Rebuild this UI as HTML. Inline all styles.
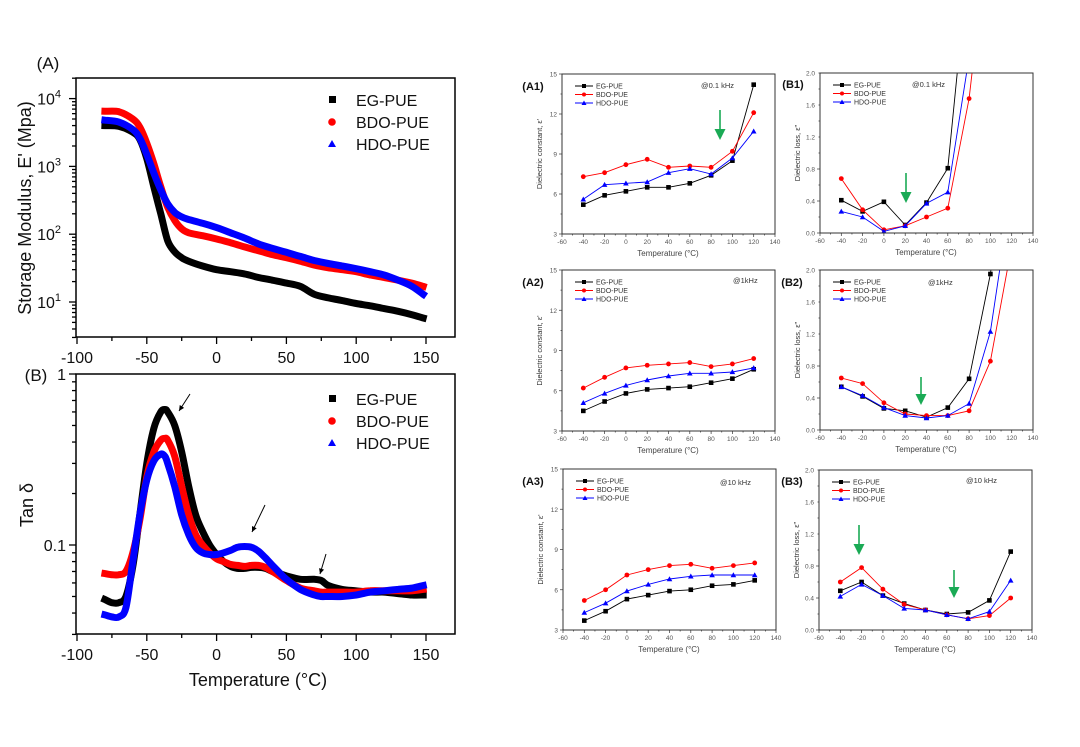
<!DOCTYPE html>
<html><head><meta charset="utf-8">
<style>
html,body{margin:0;padding:0;background:#fff;}
svg{display:block;font-family:"Liberation Sans",Arial,sans-serif;}
</style></head>
<body>
<svg id="fig" width="1080" height="747" viewBox="0 0 1080 747" xmlns="http://www.w3.org/2000/svg"></svg>
<script>
// ===== DMA data =====
const dmaTemps = [-80,-70,-60,-55,-50,-45,-40,-35,-30,-25,-20,-10,0,10,20,30,40,50,60,70,80,90,100,110,120,130,140,148];
const modEG  = [4000,3900,3200,2500,1300,500,200,80,55,45,40,34,30,28,26,23,21,19,17,13,11.5,10.5,9.5,8.8,8,7.3,6.5,5.8];
const modBDO = [6500,6400,5000,3800,2200,1100,500,250,160,120,105,95,85,75,65,57,50,45,40,35,32,30,28,25,23,21,19,17];
const modHDO = [4800,4500,3500,2600,1500,800,450,280,210,180,165,145,125,105,88,72,62,54,47,41,37,34,31,28,25,21,17,13];

const tanTemps = [-80,-75,-70,-65,-60,-55,-50,-45,-40,-37,-35,-30,-25,-20,-15,-10,-5,0,5,10,15,20,25,30,35,40,45,50,60,70,75,80,90,100,110,120,130,140,148];
const tanEG  = [0.048,0.046,0.046,0.05,0.075,0.15,0.3,0.48,0.6,0.62,0.6,0.5,0.35,0.22,0.15,0.12,0.1,0.088,0.08,0.075,0.073,0.073,0.074,0.074,0.073,0.07,0.068,0.066,0.063,0.063,0.062,0.058,0.055,0.054,0.053,0.053,0.052,0.051,0.051];
const tanBDO = [0.068,0.067,0.067,0.07,0.09,0.14,0.25,0.35,0.41,0.42,0.41,0.33,0.22,0.15,0.115,0.1,0.09,0.083,0.08,0.077,0.076,0.075,0.076,0.076,0.074,0.07,0.066,0.062,0.056,0.054,0.053,0.053,0.053,0.053,0.054,0.054,0.054,0.054,0.055];
const tanHDO = [0.039,0.038,0.038,0.043,0.08,0.15,0.24,0.31,0.34,0.33,0.3,0.22,0.15,0.115,0.097,0.09,0.088,0.088,0.09,0.093,0.097,0.098,0.097,0.092,0.084,0.076,0.069,0.063,0.055,0.051,0.05,0.05,0.05,0.051,0.053,0.054,0.055,0.056,0.058];

// ===== Dielectric data =====
const dTemps = [-40,-20,0,20,40,60,80,100,120];
const a1EG  = [5.2,5.9,6.2,6.5,6.5,6.8,7.4,8.5,14.2];
const a1BDO = [7.3,7.6,8.2,8.6,8.0,8.1,8.0,9.2,12.1];
const a1HDO = [5.6,6.7,6.8,6.9,7.6,7.9,7.5,8.7,10.7];
const b1EG  = [0.41,0.27,0.39,0.1,0.38,0.81,3.5,5,6];
const b1BDO = [0.68,0.29,0.04,0.09,0.2,0.31,1.68,4,6];
const b1HDO = [0.27,0.2,0.02,0.09,0.37,0.51,2.2,5,6];
const a2EG  = [4.5,5.2,5.8,6.1,6.2,6.3,6.6,6.9,7.6];
const a2BDO = [6.2,7.0,7.7,7.9,8.0,8.1,7.8,8.0,8.4];
const a2HDO = [5.1,5.8,6.4,6.8,7.1,7.3,7.3,7.4,7.7];
const b2EG  = [0.54,0.42,0.27,0.24,0.16,0.28,0.64,1.95,4];
const b2BDO = [0.65,0.58,0.34,0.20,0.18,0.18,0.24,0.86,2.3];
const b2HDO = [0.54,0.43,0.28,0.18,0.15,0.18,0.33,1.23,3];
const a3EG  = [3.7,4.4,5.3,5.6,5.9,6.0,6.3,6.4,6.7];
const a3BDO = [5.2,6.0,7.1,7.5,7.8,7.9,7.6,7.8,8.0];
const a3HDO = [4.3,5.0,5.9,6.4,6.8,7.0,7.1,7.1,7.1];
const b3EG  = [0.49,0.60,0.43,0.33,0.25,0.20,0.22,0.37,0.98];
const b3BDO = [0.60,0.78,0.51,0.32,0.25,0.19,0.14,0.18,0.40];
const b3HDO = [0.42,0.57,0.43,0.27,0.25,0.19,0.14,0.23,0.62];

const seriesNames = ["EG-PUE","BDO-PUE","HDO-PUE"];
const seriesColors = ["#000000","#ff0000","#0000ff"];
const xTicksBig = [-100,-50,0,50,100,150];
const xTicksSmall = [-60,-40,-20,0,20,40,60,80,100,120,140];
const epsTicks = [3,6,9,12,15];
const lossTicks = [0.0,0.4,0.8,1.2,1.6,2.0];

const NS="http://www.w3.org/2000/svg";
const svg=document.getElementById('fig');
function el(tag,attrs,parent,text){
  const e=document.createElementNS(NS,tag);
  for(const k in attrs) e.setAttribute(k,attrs[k]);
  if(text!==undefined) e.textContent=text;
  (parent||svg).appendChild(e);
  return e;
}
function smoothPath(p){
  let d='M'+p[0][0].toFixed(1)+','+p[0][1].toFixed(1);
  for(let i=0;i<p.length-1;i++){
    const p0=p[Math.max(0,i-1)],p1=p[i],p2=p[i+1],p3=p[Math.min(p.length-1,i+2)];
    const c1=[p1[0]+(p2[0]-p0[0])/6,p1[1]+(p2[1]-p0[1])/6];
    const c2=[p2[0]-(p3[0]-p1[0])/6,p2[1]-(p3[1]-p1[1])/6];
    d+=' C'+c1[0].toFixed(1)+','+c1[1].toFixed(1)+' '+c2[0].toFixed(1)+','+c2[1].toFixed(1)+' '+p2[0].toFixed(1)+','+p2[1].toFixed(1);
  }
  return d;
}

// ===== Big panels =====
function bigPanel(cfg){
  const g=el('g',{});
  
  
  const L=76,R=455,T=cfg.top,B=cfg.bottom;
  const xs=v=>77+(v+100)*(349/250);
  const ys=v=>cfg.yRef - (Math.log10(v)-cfg.refLog)*cfg.pxDec;
  const cid='clip'+cfg.name;
  const cp=el('clipPath',{id:cid},g); el('rect',{x:L,y:T,width:R-L,height:B-T},cp);
  cfg.series.forEach((s,i)=>{
    const pts=cfg.temps.map((t,j)=>[xs(t),ys(s[j])]);
    const pl=el('path',{d:smoothPath(pts),fill:'none',stroke:seriesColors[i],'stroke-width':7,'stroke-linejoin':'round','stroke-linecap':'square','clip-path':'url(#'+cid+')'},g);
    
    
  });
  const fr=el('rect',{x:L,y:T,width:R-L,height:B-T,fill:'none',stroke:'#000','stroke-width':1.5},g);
  
  
  const xa=el('g',{},g);
  
  
  for(let v=-100;v<=150;v+=25){
    const x=xs(v); const major=v%50===0;
    el('line',{x1:x,y1:B,x2:x,y2:B+(major?7:4),stroke:'#000','stroke-width':1.3},xa);
  }
  xTicksBig.forEach(v=>{
    const t=el('text',{x:xs(v),y:cfg.xLabY,'font-size':16,'text-anchor':'middle',fill:'#111'},xa,String(v));
    
    
  });
  const ya=el('g',{},g);
  
  
  for(let d=cfg.decMin;d<=cfg.decMax;d++){
    for(let m=1;m<10;m++){
      const v=m*Math.pow(10,d); const y=ys(v);
      if(y<T-0.5||y>B+0.5) continue;
      el('line',{x1:L,y1:y,x2:L-(m===1?7:4),y2:y,stroke:'#000','stroke-width':1.3},ya);
    }
  }
  cfg.yLabels(ya,ys);
  const lg=el('g',{},g);
  
  
  seriesNames.forEach((n,i)=>{
    const y=cfg.legY+i*22;
    const e=el('g',{},lg);
    
    
    if(i===0) el('rect',{x:329,y:y-4,width:7,height:7,fill:'#000'},e);
    if(i===1) el('circle',{cx:332,cy:y,r:3.8,fill:'#f00'},e);
    if(i===2) el('polygon',{points:`332,${y-4} 336,${y+3} 328,${y+3}`,fill:'#00f'},e);
    el('text',{x:356,y:y+6,'font-size':16,fill:'#111'},e,n);
  });
  return g;
}

bigPanel({name:'storage-modulus-panel',top:78,bottom:337,yRef:302,refLog:1,pxDec:67.8,decMin:0,decMax:4,xLabY:363,legY:100,
  temps:dmaTemps,series:[modEG,modBDO,modHDO],
  yLabels:(ya,ys)=>{
    [1,2,3,4].forEach(d=>{
      const t=el('text',{x:61,y:ys(Math.pow(10,d))+6,'font-size':16,'text-anchor':'end',fill:'#111'},ya);
      
      
      t.appendChild(document.createTextNode('10'));
      el('tspan',{'font-size':11,dy:-7},t,String(d));
    });
  }});
bigPanel({name:'tan-delta-panel',top:374,bottom:634,yRef:545,refLog:-1,pxDec:171,decMin:-2,decMax:0,xLabY:660,legY:399,
  temps:tanTemps,series:[tanEG,tanBDO,tanHDO],
  yLabels:(ya,ys)=>{
    [[1,'1'],[0.1,'0.1']].forEach(p=>{
      const t=el('text',{x:66,y:ys(p[0])+6,'font-size':16,'text-anchor':'end',fill:'#111'},ya,p[1]);
      
      
    });
  }});

function txt(x,y,s,attrs,name){
  const a=Object.assign({x:x,y:y},attrs||{});
  const t=el('text',a,svg,s);
  
  
  return t;
}
txt(48,69,'(A)',{'font-size':17,'text-anchor':'middle',fill:'#111'},'panel-a-label');
txt(36,381,'(B)',{'font-size':17,'text-anchor':'middle',fill:'#111'},'panel-b-label');
txt(0,0,"Storage Modulus, E' (Mpa)",{'font-size':18,'text-anchor':'middle',fill:'#111',transform:'translate(31,208) rotate(-90)'},'storage-modulus-y-title');
txt(0,0,'Tan δ',{'font-size':18,'text-anchor':'middle',fill:'#111',transform:'translate(33,505) rotate(-90)'},'tan-delta-y-title');
txt(258,686,'Temperature (°C)',{'font-size':18,'text-anchor':'middle',fill:'#111'},'temperature-x-title');

[[190,394,179,411],[265,505,252,532],[326,554,320,574]].forEach(a=>{
  const g=el('g',{});
  
  
  el('line',{x1:a[0],y1:a[1],x2:a[2],y2:a[3],stroke:'#000','stroke-width':1},g);
  const ang=Math.atan2(a[3]-a[1],a[2]-a[0]);
  const h=6,w=0.45;
  const p1=[a[2]-h*Math.cos(ang-w),a[3]-h*Math.sin(ang-w)];
  const p2=[a[2]-h*Math.cos(ang+w),a[3]-h*Math.sin(ang+w)];
  el('polygon',{points:`${a[2]},${a[3]} ${p1} ${p2}`,fill:'#000'},g);
});

// ===== small panels =====
function smallPanel(cfg){
  const g=el('g',{});
  
  
  const L=cfg.left,R=cfg.left+213,T=cfg.top,B=cfg.bottom;
  const xs=v=>L+(v+60)*(213/200);
  const ys=v=>B-(v-cfg.ymin)/(cfg.ymax-cfg.ymin)*(B-T);
  const cid='clip'+cfg.name;
  const cp=el('clipPath',{id:cid},g); el('rect',{x:L,y:T,width:R-L,height:B-T},cp);
  const cg=el('g',{'clip-path':'url(#'+cid+')'},g);
  cfg.series.forEach((s,i)=>{
    const sg=el('g',{},cg);
    
    
    const pts=dTemps.map((t,j)=>xs(t).toFixed(1)+','+ys(s[j]).toFixed(1)).join(' ');
    el('polyline',{points:pts,fill:'none',stroke:seriesColors[i],'stroke-width':0.9},sg);
    dTemps.forEach((t,j)=>{
      const x=xs(t),y=ys(s[j]);
      if(i===0) el('rect',{x:x-2.3,y:y-2.3,width:4.6,height:4.6,fill:'#000'},sg);
      if(i===1) el('circle',{cx:x,cy:y,r:2.4,fill:'#f00'},sg);
      if(i===2) el('polygon',{points:`${x},${y-2.8} ${x+2.8},${y+2.2} ${x-2.8},${y+2.2}`,fill:'#00f'},sg);
    });
  });
  const fr=el('rect',{x:L,y:T,width:R-L,height:B-T,fill:'none',stroke:'#333','stroke-width':1},g);
  
  
  const xa=el('g',{},g);
  
  
  for(let v=-60;v<=140;v+=10){
    el('line',{x1:xs(v),y1:B,x2:xs(v),y2:B+(v%20===0?3:1.5),stroke:'#333','stroke-width':0.7},xa);
  }
  xTicksSmall.forEach(v=>{
    const t=el('text',{x:xs(v),y:B+10,'font-size':6.5,'text-anchor':'middle',fill:'#555'},xa,String(v));
    
    
  });
  const xt=el('text',{x:L+106,y:B+22,'font-size':8,'text-anchor':'middle',fill:'#444'},xa,'Temperature (°C)');
  
  
  const ya=el('g',{},g);
  
  
  const step=cfg.yticks[1]-cfg.yticks[0];
  for(let v=cfg.ymin;v<=cfg.ymax+1e-9;v+=step/2){
    el('line',{x1:L,y1:ys(v),x2:L-(Math.abs(((v-cfg.ymin)/step)%1)<1e-6?3:1.5),y2:ys(v),stroke:'#333','stroke-width':0.7},ya);
  }
  cfg.yticks.forEach(v=>{
    const t=el('text',{x:L-5,y:ys(v)+2.5,'font-size':6.5,'text-anchor':'end',fill:'#555'},ya,cfg.fmt(v));
    
    
  });
  const yt=el('text',{x:0,y:0,'font-size':7.5,'text-anchor':'middle',fill:'#333',transform:`translate(${L-20},${(T+B)/2}) rotate(-90)`},ya,cfg.ytitle);
  
  
  const lg=el('g',{},g);
  
  
  seriesNames.forEach((n,i)=>{
    const y=T+12+i*8.5;
    const e=el('g',{},lg);
    
    
    el('line',{x1:L+13,y1:y,x2:L+31,y2:y,stroke:seriesColors[i],'stroke-width':0.9},e);
    if(i===0) el('rect',{x:L+20,y:y-2,width:4,height:4,fill:'#000'},e);
    if(i===1) el('circle',{cx:L+22,cy:y,r:2,fill:'#f00'},e);
    if(i===2) el('polygon',{points:`${L+22},${y-2.5} ${L+24.5},${y+2} ${L+19.5},${y+2}`,fill:'#00f'},e);
    el('text',{x:L+34,y:y+2.5,'font-size':7,fill:'#333'},e,n);
  });
  const fq=el('text',{x:cfg.fx,y:cfg.fy,'font-size':7.5,fill:'#333'},g,cfg.freq);
  
  
  const pl=el('text',{x:cfg.lx,y:cfg.ly,'font-size':11,'font-weight':'bold','text-anchor':'middle',fill:'#111'},g,cfg.label);
  
  
  (cfg.arrows||[]).forEach(a=>{
    const ag=el('g',{},g);
    
    
    el('line',{x1:a[0],y1:a[1],x2:a[0],y2:a[2]-8,stroke:'#1aaa55','stroke-width':1.6},ag);
    el('polygon',{points:`${a[0]-5.5},${a[2]-11} ${a[0]+5.5},${a[2]-11} ${a[0]},${a[2]}`,fill:'#1aaa55'},ag);
  });
}
const epsTitle="Dielectric constant, ε'";
const lossTitle='Dielectric loss, ε"';
const f0=v=>String(v), f1=v=>v.toFixed(1);
smallPanel({name:'a1-panel',left:562,top:74,bottom:234,ymin:3,ymax:15,yticks:epsTicks,fmt:f0,ytitle:epsTitle,series:[a1EG,a1BDO,a1HDO],freq:'@0.1 kHz',fx:701,fy:88,label:'(A1)',lx:533,ly:90,arrows:[[720,110,140]]});
smallPanel({name:'b1-panel',left:820,top:73,bottom:233,ymin:0,ymax:2,yticks:lossTicks,fmt:f1,ytitle:lossTitle,series:[b1EG,b1BDO,b1HDO],freq:'@0.1 kHz',fx:912,fy:87,label:'(B1)',lx:793,ly:88,arrows:[[906,173,203]]});
smallPanel({name:'a2-panel',left:562,top:270,bottom:431,ymin:3,ymax:15,yticks:epsTicks,fmt:f0,ytitle:epsTitle,series:[a2EG,a2BDO,a2HDO],freq:'@1kHz',fx:733,fy:283,label:'(A2)',lx:533,ly:286,arrows:[]});
smallPanel({name:'b2-panel',left:820,top:270,bottom:430,ymin:0,ymax:2,yticks:lossTicks,fmt:f1,ytitle:lossTitle,series:[b2EG,b2BDO,b2HDO],freq:'@1kHz',fx:928,fy:285,label:'(B2)',lx:792,ly:286,arrows:[[921,377,405]]});
smallPanel({name:'a3-panel',left:563,top:469,bottom:630,ymin:3,ymax:15,yticks:epsTicks,fmt:f0,ytitle:epsTitle,series:[a3EG,a3BDO,a3HDO],freq:'@10 kHz',fx:720,fy:485,label:'(A3)',lx:533,ly:485,arrows:[]});
smallPanel({name:'b3-panel',left:819,top:470,bottom:630,ymin:0,ymax:2,yticks:lossTicks,fmt:f1,ytitle:lossTitle,series:[b3EG,b3BDO,b3HDO],freq:'@10 kHz',fx:966,fy:483,label:'(B3)',lx:792,ly:485,arrows:[[859,525,555],[954,570,598]]});
</script>
</body></html>
